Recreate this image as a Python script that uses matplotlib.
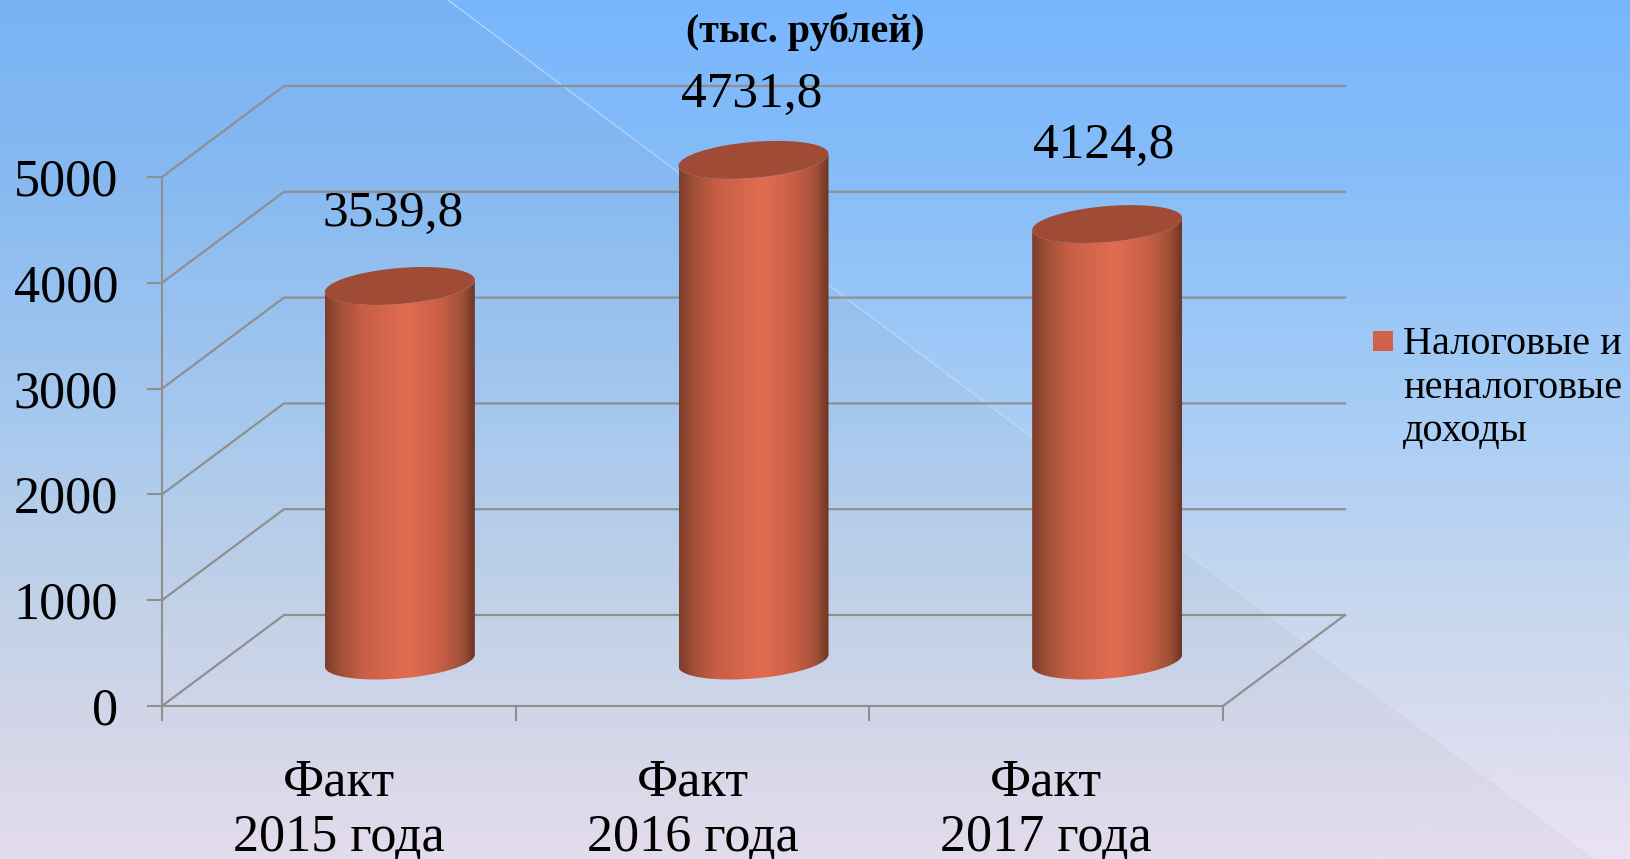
import numpy as np
import matplotlib
matplotlib.use("Agg")
import matplotlib.pyplot as plt
from matplotlib.collections import LineCollection
from matplotlib.colors import LinearSegmentedColormap
from matplotlib.patches import Polygon

# ---- data ----
categories = ["Факт\n2015 года", "Факт\n2016 года", "Факт\n2017 года"]
values = [3539.8, 4731.8, 4124.8]
value_labels = ["3539,8", "4731,8", "4124,8"]
y_ticks = [0, 1000, 2000, 3000, 4000, 5000]
legend_label = "Налоговые и\nненалоговые\nдоходы"
title = "(тыс. рублей)"

# ---- layout, in pixels of the 1630x859 figure ----
W, H = 1630, 859
LEFT, RIGHT, BOTTOM, TOP = 162, 1223, 706, 177
DEPTH_PX = (122, 91)
BAR_HALF_W = 75
ELL_B = 18
ELL_SHEAR = 6
LABEL_SHIFT = [(-7, 60), (-2, 53), (-3, 66)]

plt.rcParams["font.family"] = ["Liberation Serif", "DejaVu Serif"]
fig = plt.figure(figsize=(W / 100, H / 100), dpi=100)

# ---- background ----
bg = fig.add_axes([0, 0, 1, 1], zorder=0)
bg.set_xlim(0, W)
bg.set_ylim(H, 0)
bg.axis("off")
bg_cmap = LinearSegmentedColormap.from_list(
    "bg", [(0, "#78b6fd"), (0.2, "#86bdf9"), (0.5, "#abcef5"),
           (0.7, "#c6d7ee"), (0.85, "#d9dcef"), (1, "#ebe3f3")])
bg.imshow(np.linspace(0, 1, 256)[:, None], cmap=bg_cmap, extent=[0, W, H, 0],
          aspect="auto", vmin=0, vmax=1, zorder=0)
band_x0, band_x1 = 448, 1595
bg.add_patch(Polygon([(band_x0, 0), (band_x1, H), (0, H), (0, 0)],
                     closed=True, fc="#8a8f98", ec="none", alpha=0.075, zorder=1))
n = 60
xs = np.linspace(band_x0, band_x1, n + 1)
ys = np.linspace(0, H, n + 1)
segs = np.stack([np.c_[xs[:-1], ys[:-1]], np.c_[xs[1:], ys[1:]]], axis=1)
fade = np.linspace(0.5, 0.1, n)
bg.add_collection(LineCollection(segs, colors=[(1, 1, 1, f) for f in fade],
                                 linewidths=0.8, zorder=2))
bg.plot([1630, 1380], [682, 859], color="white", lw=0.7, alpha=0.18, zorder=2)

# ---- main axes: its frame is the front plane of the 3D box ----
ax = fig.add_axes([LEFT / W, 1 - BOTTOM / H, (RIGHT - LEFT) / W, (BOTTOM - TOP) / H],
                  zorder=1)
ax.patch.set_alpha(0)
ax.set_xlim(0, len(categories))
ax.set_ylim(0, y_ticks[-1])
px_x = len(categories) / (RIGHT - LEFT)
px_y = y_ticks[-1] / (BOTTOM - TOP)
dx, dy = DEPTH_PX[0] * px_x, DEPTH_PX[1] * px_y

GRID = "#8f8f8f"
for tick in y_ticks:
    ax.plot([0, dx, len(categories) + dx], [tick, tick + dy, tick + dy], color=GRID,
            lw=1.6, clip_on=False, zorder=1, solid_joinstyle="miter")
ax.plot([len(categories), len(categories) + dx], [0, dy], color=GRID, lw=1.6,
        clip_on=False, zorder=1)

for side in ["top", "right"]:
    ax.spines[side].set_visible(False)
for side in ["left", "bottom"]:
    ax.spines[side].set_color(GRID)
    ax.spines[side].set_linewidth(1.5)
ax.set_yticks(y_ticks)
ax.set_yticklabels([str(tick) for tick in y_ticks], fontsize=37.5)
ax.set_xticks(range(len(categories) + 1))
ax.set_xticklabels([])
ax.set_xticks(np.arange(len(categories)) + 0.5, minor=True)
ax.set_xticklabels(categories, minor=True, fontsize=37.5, linespacing=1.18)
ax.tick_params(axis="y", length=10.5, width=1.5, color=GRID, pad=21)
ax.tick_params(axis="x", which="major", length=10.5, width=1.5, color=GRID)
ax.tick_params(axis="x", which="minor", length=0, pad=38)

# ---- cylinders ----
shade = LinearSegmentedColormap.from_list(
    "cyl", [(0, "#7c3d2a"), (0.1, "#a14f38"), (0.25, "#c65f45"), (0.55, "#e36c50"),
            (0.78, "#c65f45"), (0.92, "#a04f38"), (1, "#6e3523")])
t = np.linspace(0, 2 * np.pi, 241)
a = BAR_HALF_W * px_x
b = ELL_B * px_y
s = ELL_SHEAR * px_y
front_t = np.linspace(np.pi, 2 * np.pi, 121)
top_t = front_t[::-1]
for i, v in enumerate(values):
    cx = i + 0.5 + dx / 2
    y0 = dy / 2
    y1 = y0 + v
    body = np.c_[np.r_[cx + a * np.cos(front_t), cx + a * np.cos(top_t)],
                 np.r_[y0 + s * np.cos(front_t) + b * np.sin(front_t),
                       y1 + s * np.cos(top_t) + b * np.sin(top_t)]]
    im = ax.imshow(np.linspace(0, 1, 256)[None, :], cmap=shade, aspect="auto",
                   extent=[cx - a, cx + a, y0 - 2 * b, y1 + 2 * b], zorder=3)
    im.set_clip_box(fig.bbox)
    im.set_clip_path(Polygon(body, closed=True, transform=ax.transData))
    ax.fill(cx + a * np.cos(t), y1 + s * np.cos(t) + b * np.sin(t), color="#a04b35",
            lw=0, zorder=4, clip_on=False)
    ax.annotate(value_labels[i], xy=(cx, y1),
                xytext=(LABEL_SHIFT[i][0] * 0.72, LABEL_SHIFT[i][1] * 0.72),
                textcoords="offset points", ha="center", va="baseline",
                fontsize=37, color="#000000", annotation_clip=False, zorder=5)
ax.set_xlim(0, len(categories))
ax.set_ylim(0, y_ticks[-1])

# ---- title and legend ----
fig.text(805 / W, 1 - 32 / H, title, ha="center", va="center", fontsize=28.8,
         fontweight="bold", color="#000000")
fig.patches.append(plt.Rectangle((1373 / W, 1 - 351 / H), 20 / W, 20 / H,
                                 transform=fig.transFigure, fc="#d2614a", ec="none",
                                 figure=fig))
fig.text(1403 / W, 1 - 326 / H, legend_label, ha="left", va="top", fontsize=29,
         linespacing=1.24, color="#000000")

fig.savefig("out.png", dpi=100)
